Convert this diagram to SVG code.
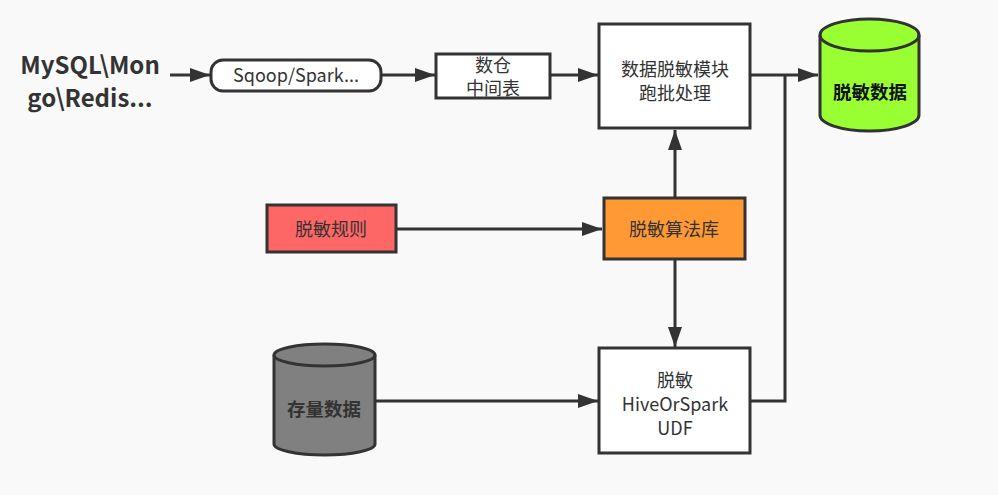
<svg xmlns="http://www.w3.org/2000/svg" width="998" height="495" viewBox="0 0 998 495">
<defs>
<style>
.bx{stroke:#333;stroke-width:3}
.ln{fill:none;stroke:#333;stroke-width:3}
.t{font-family:"Noto Sans CJK SC","Noto Sans",sans-serif;font-size:18px;fill:#333;text-anchor:middle}
.b{font-family:"Noto Sans CJK SC","Noto Sans",sans-serif;font-weight:bold;fill:#333;text-anchor:middle}
</style>
<marker id="ah" markerUnits="userSpaceOnUse" markerWidth="22" markerHeight="16" refX="20" refY="7" orient="auto">
<path d="M0,0 L20,7 L0,14 z" fill="#333"/>
</marker>
</defs>
<rect width="998" height="495" fill="#f9f9f9"/>
<g id="connectors">
<line class="ln" x1="170" y1="75" x2="210" y2="75" marker-end="url(#ah)"/>
<line class="ln" x1="382" y1="75" x2="435" y2="75" marker-end="url(#ah)"/>
<line class="ln" x1="551" y1="75" x2="598" y2="75" marker-end="url(#ah)"/>
<line class="ln" x1="750" y1="75" x2="818" y2="75" marker-end="url(#ah)"/>
<polyline class="ln" points="751,401 785,401 785,75"/>
<line class="ln" x1="396" y1="229" x2="602" y2="229" marker-end="url(#ah)"/>
<line class="ln" x1="675" y1="198" x2="675" y2="130" marker-end="url(#ah)"/>
<line class="ln" x1="675" y1="259" x2="675" y2="347" marker-end="url(#ah)"/>
<line class="ln" x1="375" y1="401" x2="598" y2="401" marker-end="url(#ah)"/>
</g>
<g id="source">
<text class="b" x="90" y="74" font-size="24">MySQL\Mon</text>
<text class="b" x="90" y="107" font-size="24">go\Redis...</text>
</g>
<g id="sqoop">
<rect class="bx" x="211" y="60" width="170" height="31" rx="12" fill="#fff"/>
<text class="t" x="296" y="82" font-size="17">Sqoop/Spark...</text>
</g>
<g id="dw">
<rect class="bx" x="436" y="54" width="114" height="44" fill="#fff"/>
<text class="t" x="493" y="72" font-size="17">数仓</text>
<text class="t" x="493" y="95" font-size="17">中间表</text>
</g>
<g id="batch">
<rect class="bx" x="599" y="24" width="151" height="104" fill="#fff"/>
<text class="t" x="675" y="76">数据脱敏模块</text>
<text class="t" x="675" y="100">跑批处理</text>
</g>
<g id="result">
<path class="bx" d="M820,35 a49.5,16 0 0 1 99,0 v80 a49.5,16 0 0 1 -99,0 z" fill="#99ff33"/>
<path class="ln" d="M820,35 a49.5,16 0 0 0 99,0"/>
<text class="b" x="870" y="99" font-size="18.5" style="fill:#111">脱敏数据</text>
</g>
<g id="rules">
<rect class="bx" x="267" y="205" width="129" height="47" fill="#ff6666"/>
<text class="t" x="331" y="236">脱敏规则</text>
</g>
<g id="algo">
<rect class="bx" x="604" y="198" width="141" height="61" fill="#ff9933"/>
<text class="t" x="674" y="236">脱敏算法库</text>
</g>
<g id="stock">
<path class="bx" d="M274,355 a50.5,11 0 0 1 101,0 v89 a50.5,11 0 0 1 -101,0 z" fill="#808080"/>
<path class="ln" d="M274,355 a50.5,11 0 0 0 101,0"/>
<text class="b" x="324" y="416" font-size="18.5">存量数据</text>
</g>
<g id="udf">
<rect class="bx" x="599" y="348" width="151" height="105" fill="#fff"/>
<text class="t" x="675" y="387">脱敏</text>
<text class="t" x="675" y="411">HiveOrSpark</text>
<text class="t" x="675" y="435">UDF</text>
</g>
</svg>
